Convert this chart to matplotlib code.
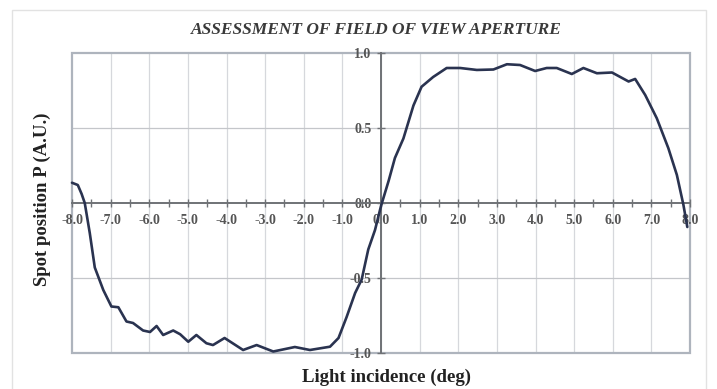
import matplotlib
matplotlib.use("Agg")
import matplotlib.pyplot as plt
from matplotlib.patches import Rectangle
from matplotlib.ticker import MultipleLocator, FixedLocator

# ---- data ----
incidence_deg = [-8.0, -7.85, -7.75, -7.67, -7.54, -7.41, -7.19, -6.98, -6.8, -6.59,
                 -6.42, -6.16, -5.98, -5.81, -5.64, -5.38, -5.2, -4.99, -4.78, -4.52,
                 -4.35, -4.05, -3.57, -3.22, -2.79, -2.23, -1.84, -1.32, -1.1, -0.89,
                 -0.67, -0.5, -0.33, -0.155, 0.0, 0.2, 0.36, 0.58, 0.84, 1.05,
                 1.35, 1.7, 2.05, 2.48, 2.91, 3.26, 3.6, 3.99, 4.29, 4.55,
                 4.94, 5.24, 5.59, 5.98, 6.41, 6.58, 6.84, 7.14, 7.44, 7.66,
                 7.83, 7.93]
spot_position = [0.135, 0.12, 0.06, 0.0, -0.2, -0.43, -0.58, -0.69, -0.695, -0.79,
                 -0.80, -0.85, -0.86, -0.82, -0.88, -0.85, -0.875, -0.925, -0.88, -0.935,
                 -0.947, -0.90, -0.98, -0.947, -0.99, -0.96, -0.98, -0.958, -0.90, -0.76,
                 -0.60, -0.51, -0.31, -0.18, -0.02, 0.15, 0.30, 0.43, 0.65, 0.775,
                 0.84, 0.90, 0.90, 0.887, 0.89, 0.925, 0.92, 0.88, 0.90, 0.90,
                 0.86, 0.90, 0.865, 0.87, 0.81, 0.827, 0.72, 0.565, 0.365, 0.187,
                 -0.013, -0.16]
x_ticks = [-8, -7, -6, -5, -4, -3, -2, -1, 0, 1, 2, 3, 4, 5, 6, 7, 8]
y_ticks = [-1.0, -0.5, 0.0, 0.5, 1.0]

title = "ASSESSMENT OF FIELD OF VIEW APERTURE"
xlabel = "Light incidence (deg)"
ylabel = "Spot position P (A.U.)"

plt.rcParams['font.family'] = ['Liberation Serif', 'DejaVu Serif']

fig = plt.figure(figsize=(7.17, 3.89), dpi=100)
fig.patch.set_facecolor('white')
# faint outer frame
fig.add_artist(Rectangle((12/717, -0.01), (706-12)/717, 1 - 10/389 + 0.01,
                         transform=fig.transFigure, fill=False,
                         edgecolor='#e2e2e2', linewidth=1.0))

ax = fig.add_axes([72/717, 1 - 353/389, (690-72)/717, (353-53)/389])
ax.set_xlim(-8, 8)
ax.set_ylim(-1, 1)
ax.set_facecolor('white')

# grid
for xv in x_ticks[1:-1]:
    ax.axvline(xv, color='#d6d8dc', linewidth=0.9, zorder=0)
for yv in [-0.5, 0.5]:
    ax.axhline(yv, color='#c4c6ca', linewidth=0.9, zorder=0)

# box
ax.add_patch(Rectangle((0, 0), 1, 1, transform=ax.transAxes, fill=False,
                       edgecolor='#aeb4bd', linewidth=1.6, zorder=1, clip_on=False))

# axes through zero
for s in ['top', 'right']:
    ax.spines[s].set_visible(False)
ax.spines['left'].set_position(('data', 0))
ax.spines['bottom'].set_position(('data', 0))
for s in ['left', 'bottom']:
    ax.spines[s].set_color('#6f7276')
    ax.spines[s].set_linewidth(1.4)
    ax.spines[s].set_zorder(2)

ax.xaxis.set_major_locator(FixedLocator(x_ticks))
ax.xaxis.set_minor_locator(MultipleLocator(0.5))
ax.yaxis.set_major_locator(FixedLocator(y_ticks))
ax.set_xticklabels([f"{v:.1f}" for v in x_ticks])
ax.set_yticklabels([f"{v:.1f}" for v in y_ticks])
ax.tick_params(axis='both', which='both', direction='inout', color='#6f7276',
               width=1.0)
ax.tick_params(axis='both', which='major', length=6)
ax.tick_params(axis='both', which='minor', length=6)
ax.tick_params(axis='x', pad=5)
ax.tick_params(axis='y', pad=4)
for lab in ax.get_xticklabels() + ax.get_yticklabels():
    lab.set_fontweight('bold')
    lab.set_fontsize(10)
    lab.set_color('#555555')

ax.plot(incidence_deg, spot_position, color='#2a3350', linewidth=1.9,
        solid_joinstyle='round', solid_capstyle='round', zorder=3, clip_on=False)

fig.text(376/717, 1 - 30/389, title, ha='center', va='center', fontsize=12.5,
         fontstyle='italic', fontweight='bold', color='#3a3a3a')
fig.text(387/717, 1 - 377/389, xlabel, ha='center', va='center', fontsize=13.5,
         fontweight='bold', color='#222222')
fig.text(42/717, 1 - 199/389, ylabel, ha='center', va='center', fontsize=13.5,
         fontweight='bold', color='#222222', rotation=90)

fig.savefig('out.png', dpi=100, facecolor='white')
